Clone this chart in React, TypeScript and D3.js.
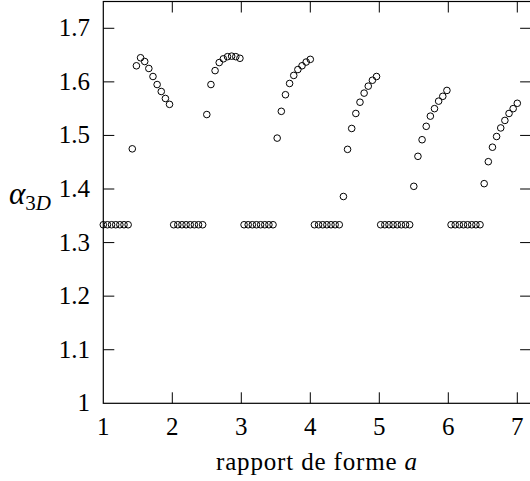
import React from 'react';
import * as d3 from 'd3';

const aspectRatio = [
  1.00, 1.06, 1.12, 1.18, 1.24, 1.30, 1.36, 1.42, 1.48, 1.54,
  1.60, 1.66, 1.72, 1.78, 1.84, 1.90, 1.96, 2.02, 2.08, 2.14,
  2.20, 2.26, 2.32, 2.38, 2.44, 2.50, 2.56, 2.62, 2.68, 2.74,
  2.80, 2.86, 2.92, 2.98, 3.04, 3.10, 3.16, 3.22, 3.28, 3.34,
  3.40, 3.46, 3.52, 3.58, 3.64, 3.70, 3.76, 3.82, 3.88, 3.94,
  4.00, 4.06, 4.12, 4.18, 4.24, 4.30, 4.36, 4.42, 4.48, 4.54,
  4.60, 4.66, 4.72, 4.78, 4.84, 4.90, 4.96, 5.02, 5.08, 5.14,
  5.20, 5.26, 5.32, 5.38, 5.44, 5.50, 5.56, 5.62, 5.68, 5.74,
  5.80, 5.86, 5.92, 5.98, 6.04, 6.10, 6.16, 6.22, 6.28, 6.34,
  6.40, 6.46, 6.52, 6.58, 6.64, 6.70, 6.76, 6.82, 6.88, 6.94,
  7.00,
];

const alpha3D = [
  1.3333, 1.3333, 1.3333, 1.3333, 1.3333, 1.3333, 1.3333,
  1.475, 1.630, 1.645, 1.638, 1.625, 1.610, 1.595, 1.582, 1.569, 1.558,
  1.3333, 1.3333, 1.3333, 1.3333, 1.3333, 1.3333, 1.3333, 1.3333,
  1.539, 1.595, 1.621, 1.636, 1.643, 1.647, 1.648, 1.647, 1.644,
  1.3333, 1.3333, 1.3333, 1.3333, 1.3333, 1.3333, 1.3333, 1.3333,
  1.495, 1.545, 1.576, 1.597, 1.612, 1.623, 1.630, 1.637, 1.642,
  1.3333, 1.3333, 1.3333, 1.3333, 1.3333, 1.3333, 1.3333,
  1.386, 1.474, 1.513, 1.541, 1.562, 1.579, 1.592, 1.603, 1.610,
  1.3333, 1.3333, 1.3333, 1.3333, 1.3333, 1.3333, 1.3333, 1.3333,
  1.405, 1.461, 1.492, 1.517, 1.536, 1.550, 1.564, 1.573, 1.584,
  1.3333, 1.3333, 1.3333, 1.3333, 1.3333, 1.3333, 1.3333, 1.3333,
  1.410, 1.451, 1.478, 1.498, 1.514, 1.528, 1.541, 1.550, 1.560,
];

const xTicks = [1, 2, 3, 4, 5, 6, 7];
const xTickLabels = ['1', '2', '3', '4', '5', '6', '7'];
const yTicks = [1, 1.1, 1.2, 1.3, 1.4, 1.5, 1.6, 1.7];
const yTickLabels = ['1', '1.1', '1.2', '1.3', '1.4', '1.5', '1.6', '1.7'];
const xLabel = 'rapport de forme ';
const xLabelVar = 'a';

const W = 530;
const H = 481;
const left = 103.3;
const right = 531.1;
const top = 1.5;
const bottom = 403.3;
const FONT = "'Liberation Serif', 'DejaVu Serif', serif";

export default function App() {
  const x = d3.scaleLinear().domain([1, 7.2]).range([left, right]);
  const y = d3.scaleLinear().domain([1, 1.75]).range([bottom, top]);
  const tick = 11;
  const txt = { fontFamily: FONT, fontSize: 25, fill: '#000' } as React.CSSProperties;

  return (
    <svg
      width={W}
      height={H}
      style={{ position: 'absolute', left: 0, top: 0, background: '#fff' }}
    >
      <rect x={0} y={0} width={W} height={H} fill="#fff" />
      {xTicks.filter((t) => t > 1).map((t) => (
        <g key={'xt' + t} stroke="#000" strokeWidth={1}>
          <line x1={x(t)} x2={x(t)} y1={bottom} y2={bottom - tick} />
          <line x1={x(t)} x2={x(t)} y1={top} y2={top + tick} />
        </g>
      ))}
      {yTicks.filter((t) => t > 1).map((t) => (
        <g key={'yt' + t} stroke="#000" strokeWidth={1}>
          <line x1={left} x2={left + tick} y1={y(t)} y2={y(t)} />
          <line x1={right} x2={right - tick} y1={y(t)} y2={y(t)} />
        </g>
      ))}
      <rect
        x={left}
        y={top}
        width={right - left}
        height={bottom - top}
        fill="none"
        stroke="#000"
        strokeWidth={1.2}
      />
      {xTicks.map((t, i) => (
        <text key={'xl' + t} x={x(t)} y={435} textAnchor="middle" style={txt}>
          {xTickLabels[i]}
        </text>
      ))}
      {yTicks.map((t, i) => (
        <text key={'yl' + t} x={90} y={y(t) + 8} textAnchor="end" style={txt}>
          {yTickLabels[i]}
        </text>
      ))}
      <text
        x={216}
        y={470}
        textLength={201}
        lengthAdjust="spacing"
        style={txt}
      >
        {xLabel}
        <tspan style={{ fontStyle: 'italic' }}>{xLabelVar}</tspan>
      </text>
      <text x={9} y={204} style={{ ...txt, fontSize: 31 }}>
        <tspan style={{ fontStyle: 'italic' }}>α</tspan>
        <tspan style={{ fontSize: 21 }} dy={6}>3</tspan>
        <tspan style={{ fontSize: 21, fontStyle: 'italic' }}>D</tspan>
      </text>
      <g fill="none" stroke="#000" strokeWidth={1}>
        {aspectRatio.map((a, i) => (
          <circle key={i} cx={x(a)} cy={y(alpha3D[i])} r={3.3} />
        ))}
      </g>
    </svg>
  );
}
